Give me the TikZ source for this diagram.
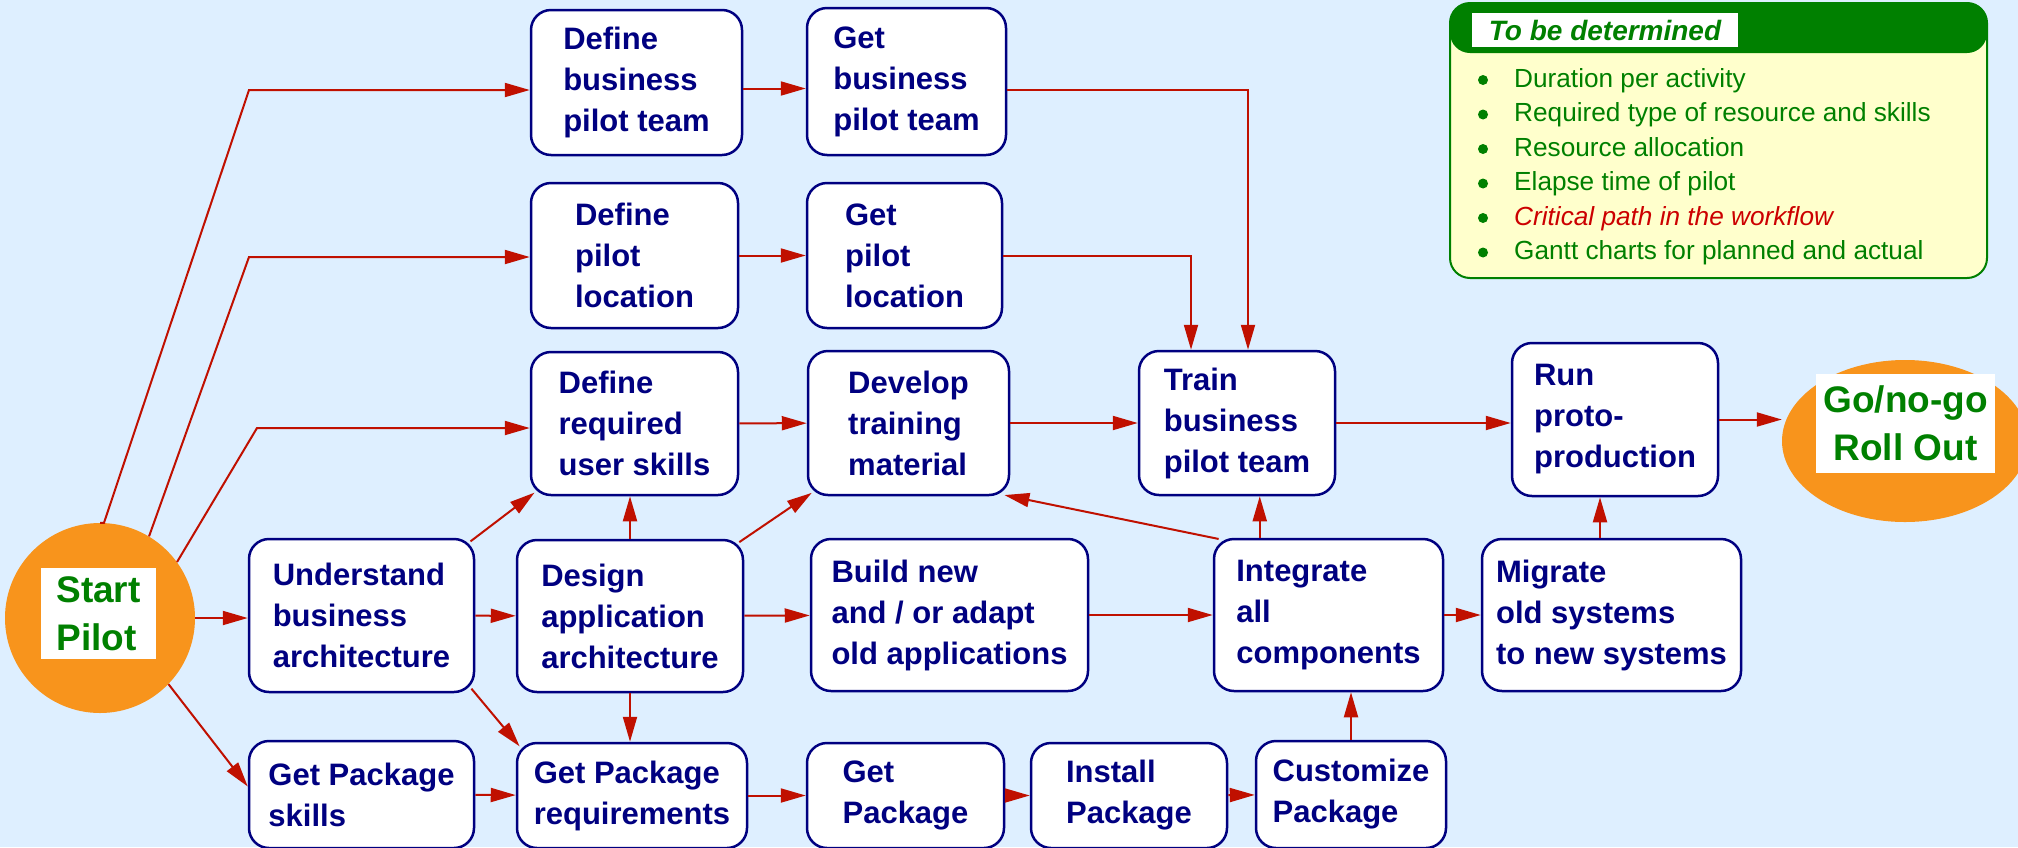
\documentclass[tikz,border=0pt]{standalone}
\usepackage{fontspec}
\setmainfont{Liberation Sans}
\usetikzlibrary{arrows.meta, positioning, shapes.geometric, calc}

\definecolor{bgblue}{RGB}{222,239,255}
\definecolor{navy}{RGB}{0,0,128}
\definecolor{flowred}{RGB}{192,16,0}
\definecolor{mileorange}{RGB}{248,148,28}
\definecolor{notegreen}{RGB}{0,128,0}
\definecolor{noteyellow}{RGB}{255,255,204}
\definecolor{notered}{RGB}{204,0,0}

\tikzset{
	tasktext/.style={font=\fontsize{31}{41}\selectfont\bfseries, text=navy}
}
\tikzset{
	notetext/.style={font=\fontsize{26.2}{30}\selectfont, text=notegreen}
}

\begin{document}
\begin{tikzpicture}[x=1pt,y=-1pt]
			\tikzset{
				taskbox/.style={
						shape=rectangle,
						rounded corners=20pt,
						draw=navy,
						line width=2.5pt,
						fill=white,
						align=left,
						inner sep=0pt,
						tasktext
					},
				flow/.style={
						draw=flowred,
						line width=2pt,
						-{Triangle[length=25pt,width=14pt]}
					},
				cornerflow/.style={flow, shorten <=-6pt, shorten >=-6pt},
				milestone/.style={fill=mileorange, draw=none, inner sep=0pt},
				milelabel/.style={
						fill=white,
						inner sep=0pt,
						font=\fontsize{37}{48}\selectfont\bfseries,
						text=notegreen
					}
			}

			\fill[bgblue] (0,0) rectangle (2018,847);
			\useasboundingbox (0,0) rectangle (2018,847);

			% milestones
			\node[milestone, circle, minimum size=190pt] (start) at (100,618) {};
			\node[milelabel, align=left, minimum width=115pt, minimum height=91pt] (startlbl) at (98.5,613.5) {Start\\Pilot};
			\node[milestone, ellipse, minimum width=246pt, minimum height=162pt] (gong) at (1905,441) {};
			\node[milelabel, align=center, minimum width=179pt, minimum height=99pt] (gonglbl) at (1905.5,423.5) {Go/no-go\\Roll Out};

			% tasks
			\node[taskbox, minimum width=211pt, minimum height=145pt] (dbpt) at (636.5,82.5) {Define\\business\\pilot team};
			\node[taskbox, minimum width=199pt, minimum height=147pt] (gbpt) at (906.5,81.5) {Get\\business\\pilot team};
			\node[taskbox, minimum width=207pt, minimum height=145pt] (dpl) at (634.5,255.5) {Define\\pilot\\location};
			\node[taskbox, minimum width=195pt, minimum height=145pt] (gpl) at (904.5,255.5) {Get\\pilot\\location};
			\node[taskbox, minimum width=207pt, minimum height=143pt] (dus) at (634.5,423.5) {Define\\required\\user skills};
			\node[taskbox, minimum width=201pt, minimum height=144pt] (dtm) at (908.5,423) {Develop\\training\\material};
			\node[taskbox, minimum width=196pt, minimum height=144pt] (tbpt) at (1237,423) {Train\\business\\pilot team};
			\node[taskbox, minimum width=206pt, minimum height=153pt] (rpp) at (1615,419.5) {Run\\proto-\\production};
			\node[taskbox, minimum width=225pt, minimum height=153pt] (uba) at (361.5,615.5) {Understand\\business\\architecture};
			\node[taskbox, minimum width=226pt, minimum height=152pt] (daa) at (630,616) {Design\\application\\architecture};
			\node[taskbox, minimum width=277pt, minimum height=152pt] (bna) at (949.5,615) {Build new\\and / or adapt\\old applications};
			\node[taskbox, minimum width=229pt, minimum height=152pt] (iac) at (1328.5,615) {Integrate\\all\\components};
			\node[taskbox, minimum width=259pt, minimum height=152pt] (mos) at (1611.5,615) {Migrate\\old systems\\to new systems};
			\node[taskbox, minimum width=225pt, minimum height=107pt] (gps) at (361.5,794.5) {Get Package\\skills};
			\node[taskbox, minimum width=230pt, minimum height=105pt] (gpr) at (632,795.5) {Get Package\\requirements};
			\node[taskbox, minimum width=197pt, minimum height=105pt] (gpk) at (905.5,795.5) {Get\\Package};
			\node[taskbox, minimum width=196pt, minimum height=105pt] (ipk) at (1129,795.5) {Install\\Package};
			\node[taskbox, minimum width=190pt, minimum height=107pt] (cpk) at (1351,794.5) {Customize\\Package};

			% fan out of the start
			\coordinate (bend1) at (249,90);
			\coordinate (bend2) at (249,257);
			\coordinate (bend3) at (257,428);
			\draw[flow] (start.north) -- ++(4,0) -- (bend1) -- (bend1 -| dbpt.west);
			\draw[flow] (start.59) -- (bend2) -- (bend2 -| dpl.west);
			\draw[flow] (start.36) -- (bend3) -- (bend3 -| dus.west);
			\draw[flow] (start.east) -- (start.east -| uba.west);
			\draw[flow] (start.-44) -- ([yshift=8pt]gps.west);

			% flows
			\coordinate (r1) at ([yshift=-6pt]dbpt.east);
			\draw[flow] (r1) -- (r1 -| gbpt.west);
			\draw[flow] (dpl) -- (gpl);
			\draw[flow] ([yshift=-8pt]gbpt.east) -| ([xshift=11pt]tbpt.north);
			\draw[flow] (gpl.east) -| ([xshift=-46pt]tbpt.north);
			\draw[flow] (dus) -- (dtm);
			\draw[flow] (dtm) -- (tbpt);
			\draw[flow] (tbpt.east) -- (tbpt.east -| rpp.west);
			\draw[flow] (rpp.east) -- (rpp.east -| gong.west);
			\draw[cornerflow] (uba.north east) -- (dus.south west);
			\draw[flow] (daa.north) -- (daa.north |- dus.south);
			\draw[cornerflow] (daa.north east) -- (dtm.south west);
			\draw[flow] (uba) -- (daa);
			\draw[flow] (daa) -- (bna);
			\draw[flow] (bna) -- (iac);
			\draw[flow] (iac) -- (mos);
			\draw[cornerflow] (iac.north west) -- (dtm.south east);
			\coordinate (up1) at ([xshift=47pt]iac.north west);
			\draw[flow] (up1) -- (up1 |- tbpt.south);
			\coordinate (up2) at ([xshift=-11.5pt]mos.north);
			\draw[flow] (up2) -- (up2 |- rpp.south);
			\draw[cornerflow] (uba.south east) -- (gpr.north west);
			\draw[flow] (daa.south) -- (daa.south |- gpr.north);
			\draw[flow] (gps) -- (gpr);
			\draw[flow] (gpr) -- (gpk);
			\draw[flow] (gpk) -- (ipk);
			\draw[flow] (ipk) -- (cpk);
			\draw[flow] (cpk.north) -- (cpk.north |- iac.south);

			% open points
			\draw[draw=notegreen, fill=noteyellow, line width=2pt, rounded corners=20pt] (1450,3) rectangle (1987,278);
			\fill[notegreen, rounded corners=20pt] (1450,3) rectangle (1987,53);
			\node[fill=white, inner sep=0pt, minimum width=266pt, minimum height=34pt, font=\fontsize{28}{32}\selectfont\bfseries\itshape, text=notegreen] (notetitle) at (1605,30) {To be determined};
			\foreach \yy in {80,114.5,149,183.5,218,252.5}
				\fill[notegreen] (1483,\yy) circle (5pt);
			\node[notetext, anchor=base west, inner sep=0pt] (note1) at (1514,87) {Duration per activity};
			\node[notetext, anchor=base west, inner sep=0pt] (note2) at (1514,121.5) {Required type of resource and skills};
			\node[notetext, anchor=base west, inner sep=0pt] (note3) at (1514,156) {Resource allocation};
			\node[notetext, anchor=base west, inner sep=0pt] (note4) at (1514,190.5) {Elapse time of pilot};
			\node[notetext, anchor=base west, inner sep=0pt, text=notered, font=\fontsize{26.2}{30}\selectfont\itshape] (note5) at (1514,225) {Critical path in the workflow};
			\node[notetext, anchor=base west, inner sep=0pt] (note6) at (1514,259.5) {Gantt charts for planned and actual};
		\end{tikzpicture}
\end{document}
